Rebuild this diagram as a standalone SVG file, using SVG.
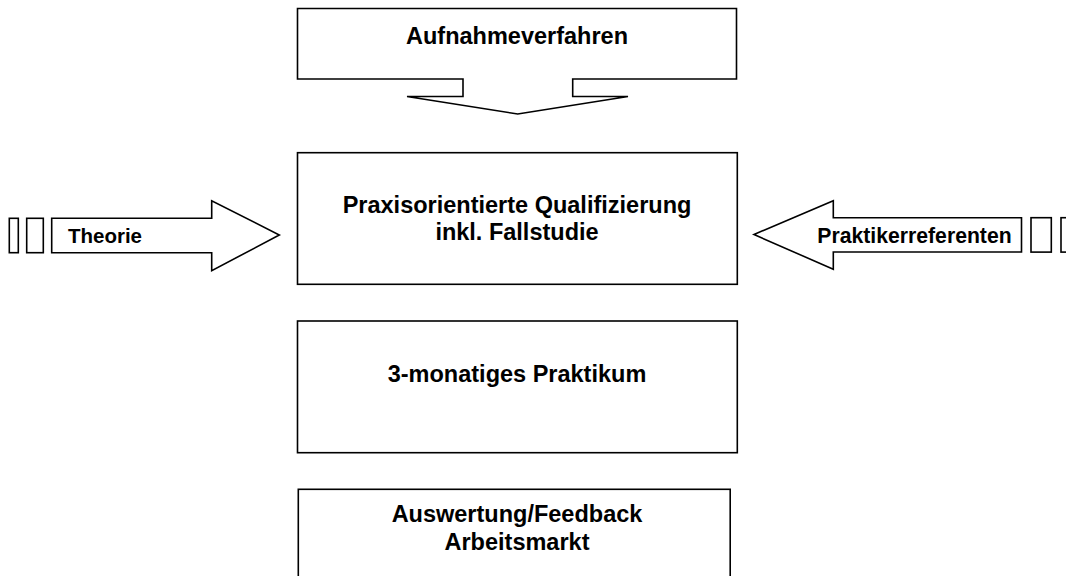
<svg xmlns="http://www.w3.org/2000/svg" width="1066" height="576" viewBox="0 0 1066 576">
<style>
.s{fill:#fff;stroke:#000;stroke-width:1.6;stroke-linejoin:miter}
.t{font-family:"Liberation Sans",Arial,sans-serif;font-weight:bold;fill:#000;text-anchor:middle}
.big{font-size:23.5px}
.sm{font-size:20.5px}
</style>
<rect width="1066" height="576" fill="#fff"/>
<g id="aufnahme">
<path class="s" d="M297.5,8.5 H736.5 V79 H572.7 V96.5 H628 L517.7,114 L407,96.5 H463 V79 H297.5 Z"/>
<text class="t big" x="517" y="43.5">Aufnahmeverfahren</text>
</g>
<g id="qualifizierung">
<rect class="s" x="297.5" y="152.7" width="439.8" height="131.6"/>
<text class="t big" x="517" y="212.5">Praxisorientierte Qualifizierung</text>
<text class="t big" x="517" y="240">inkl. Fallstudie</text>
</g>
<g id="praktikum">
<rect class="s" x="297.5" y="321" width="439.8" height="131.7"/>
<text class="t big" x="517" y="381.5">3-monatiges Praktikum</text>
</g>
<g id="auswertung">
<rect class="s" x="298.3" y="489.3" width="431.9" height="100"/>
<text class="t big" x="517" y="521.5">Auswertung/Feedback</text>
<text class="t big" x="517" y="549.5">Arbeitsmarkt</text>
</g>
<g id="theorie">
<rect class="s" x="9.3" y="218.3" width="9" height="34.4"/>
<rect class="s" x="26.7" y="218.3" width="16.6" height="34.4"/>
<path class="s" d="M51.7,218.3 H211.7 V200.7 L279.3,235 L211.7,270.7 V252.7 H51.7 Z"/>
<text class="t sm" x="105" y="243">Theorie</text>
</g>
<g id="praktikerreferenten">
<rect class="s" x="1031" y="217.7" width="20.3" height="34.4"/>
<rect class="s" x="1061" y="217.7" width="20" height="34.4"/>
<path class="s" d="M1021.5,217.7 H833.3 V200.7 L754,234.5 L833.3,269.3 V252 H1021.5 Z"/>
<text class="t sm" x="914.5" y="243.3" style="font-size:21.2px">Praktikerreferenten</text>
</g>
<g id="connectors"></g>
</svg>
